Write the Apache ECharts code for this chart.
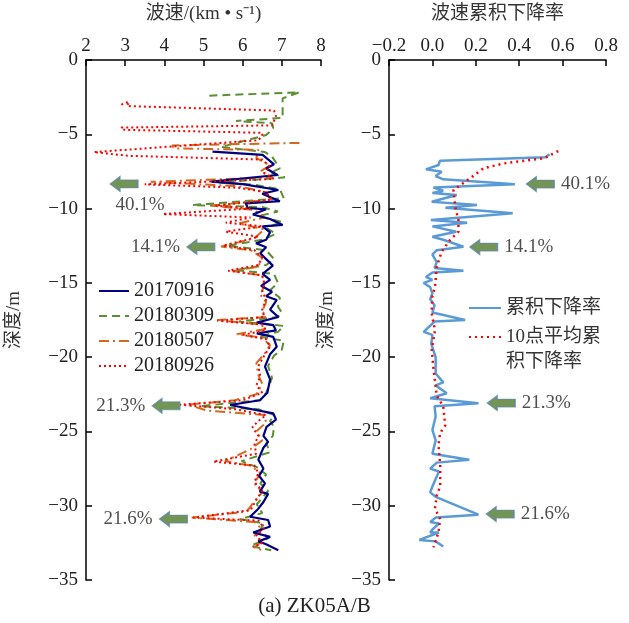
<!DOCTYPE html>
<html>
<head>
<meta charset="utf-8">
<script src="https://cdn.jsdelivr.net/npm/echarts@6/dist/echarts.min.js"></script>
<style>html,body{margin:0;padding:0;background:#fff}#c{width:629px;height:623px}</style>
</head>
<body>
<div id="c"></div>
<script>
// ---- data: [velocity km/s, depth m] ----
const s20170916 = [[5.23,-6.17],[6.51,-6.39],[6.8,-7.02],[6.6,-7.3],[6.89,-7.74],[5.2,-8.19],[6.0,-8.35],[6.91,-8.75],[6.5,-9.0],[6.95,-9.5],[6.08,-9.65],[6.13,-9.96],[6.6,-10.05],[6.26,-10.4],[6.7,-10.7],[7.02,-11.1],[6.51,-11.2],[6.7,-11.6],[6.6,-12.1],[6.34,-12.34],[6.6,-12.6],[6.45,-13.0],[6.56,-13.3],[6.77,-13.84],[6.51,-14.4],[6.7,-14.8],[6.47,-15.2],[6.75,-15.6],[6.6,-15.9],[6.87,-16.15],[6.7,-16.8],[6.91,-17.3],[6.36,-17.68],[6.78,-17.84],[6.85,-18.2],[6.36,-18.4],[6.78,-18.64],[6.87,-19.3],[6.7,-19.8],[6.57,-20.64],[6.7,-21.5],[6.63,-22.4],[6.44,-22.9],[5.68,-23.22],[6.78,-23.78],[6.85,-24.2],[6.61,-24.7],[6.53,-25.3],[6.65,-25.7],[6.53,-26.1],[6.4,-26.9],[6.53,-27.5],[6.42,-28.0],[6.57,-28.5],[6.44,-29.05],[6.65,-29.2],[6.53,-29.75],[6.4,-30.2],[6.19,-30.74],[6.65,-30.96],[6.7,-31.4],[6.27,-31.8],[6.7,-32.1],[6.4,-32.4],[6.6,-32.6],[6.91,-33.0]];
const s20180309 = [[5.15,-2.4],[7.45,-2.17],[7.02,-2.58],[7.02,-3.9],[5.83,-4.1],[6.75,-4.25],[6.78,-4.6],[6.6,-5.05],[5.45,-5.85],[6.57,-6.2],[6.75,-6.5],[6.95,-7.3],[6.7,-7.6],[7.08,-7.9],[5.4,-8.25],[6.3,-8.4],[6.95,-8.7],[7.05,-9.3],[4.72,-9.76],[6.5,-9.9],[6.9,-10.2],[6.4,-10.5],[7.0,-10.9],[6.6,-11.3],[6.85,-11.7],[6.5,-12.1],[5.6,-12.5],[6.6,-12.8],[6.8,-13.4],[6.6,-13.8],[5.8,-14.15],[6.8,-14.4],[6.9,-15.0],[6.7,-15.5],[6.95,-16.0],[6.9,-16.6],[7.0,-17.0],[6.9,-17.3],[5.9,-17.6],[7.05,-17.9],[6.9,-18.3],[6.4,-18.6],[7.05,-18.9],[7.0,-19.5],[6.8,-19.9],[6.65,-20.6],[6.75,-21.4],[6.6,-22.4],[6.45,-22.9],[4.9,-23.3],[6.4,-23.5],[6.8,-23.9],[6.7,-24.3],[6.8,-24.7],[6.77,-25.3],[6.6,-25.8],[6.7,-26.4],[5.97,-27.0],[6.36,-27.4],[6.6,-27.9],[6.45,-28.5],[6.65,-29.0],[6.36,-29.9],[6.5,-30.5],[5.93,-30.9],[6.55,-31.2],[6.45,-31.6],[6.65,-32.2],[6.2,-32.7],[6.73,-33.0]];
const s20180507 = [[7.45,-5.58],[4.2,-5.75],[4.25,-5.95],[6.4,-6.05],[6.35,-6.6],[6.7,-7.1],[6.45,-7.5],[6.75,-7.9],[3.65,-8.2],[5.9,-8.5],[6.6,-8.9],[6.7,-9.4],[5.2,-9.8],[6.3,-10.1],[6.55,-10.6],[5.9,-11.0],[6.55,-11.4],[6.3,-12.0],[5.45,-12.56],[6.2,-12.8],[6.5,-13.3],[6.4,-13.9],[5.75,-14.2],[6.5,-14.5],[6.55,-15.2],[6.45,-15.8],[6.6,-16.3],[6.5,-16.9],[6.6,-17.3],[5.35,-17.5],[6.45,-17.8],[6.6,-18.1],[5.85,-18.45],[6.5,-18.7],[6.7,-19.2],[6.55,-19.8],[6.35,-20.4],[6.4,-21.2],[6.5,-21.8],[6.35,-22.5],[5.8,-22.9],[4.6,-23.2],[5.1,-23.6],[6.55,-23.9],[6.6,-24.4],[6.35,-25.0],[6.5,-25.6],[6.2,-26.2],[5.55,-27.0],[6.2,-27.3],[6.45,-27.8],[6.3,-28.5],[6.5,-29.1],[6.3,-29.7],[6.1,-30.4],[4.7,-30.8],[6.3,-31.1],[6.5,-31.6],[6.3,-32.0],[6.5,-32.4],[6.3,-32.8],[6.5,-33.0]];
const s20180926 = [[2.9,-3.0],[3.1,-2.8],[3.05,-3.1],[6.8,-3.4],[6.85,-3.8],[6.75,-4.4],[2.9,-4.55],[2.95,-4.7],[6.5,-4.9],[6.5,-5.1],[6.4,-5.4],[2.2,-6.2],[3.1,-6.45],[6.5,-6.7],[6.7,-7.2],[6.55,-7.6],[6.8,-8.0],[3.5,-8.37],[5.9,-8.6],[6.6,-8.9],[6.75,-9.4],[5.3,-9.8],[6.2,-10.0],[3.96,-10.37],[6.2,-10.6],[5.57,-10.95],[6.5,-11.2],[5.57,-11.55],[6.4,-11.9],[5.5,-12.5],[6.3,-12.8],[6.5,-13.3],[6.4,-13.8],[5.63,-14.18],[6.5,-14.5],[6.55,-15.0],[6.5,-15.6],[6.6,-16.1],[6.5,-16.8],[6.55,-17.3],[5.35,-17.55],[6.5,-17.8],[6.6,-18.2],[6.0,-18.5],[6.6,-18.8],[6.7,-19.3],[6.55,-19.9],[6.4,-20.6],[6.45,-21.3],[6.35,-21.9],[6.5,-22.4],[6.0,-22.9],[4.4,-23.2],[5.8,-23.5],[6.6,-23.9],[6.4,-24.3],[6.25,-24.7],[6.4,-25.3],[6.3,-25.9],[6.35,-26.5],[5.25,-27.03],[6.3,-27.3],[6.4,-27.8],[6.3,-28.4],[6.5,-29.0],[6.35,-29.6],[6.2,-30.3],[4.74,-30.8],[6.4,-31.0],[6.55,-31.5],[6.35,-32.0],[6.5,-32.5],[6.27,-32.8]];
// ---- data: [cumulative decline rate, depth m] ----
const cumDecline = [[0.54,-6.35],[0.52,-6.55],[0.035,-6.78],[0.028,-7.07],[-0.03,-7.36],[0.043,-7.52],[0.015,-7.81],[0.05,-8.03],[0.38,-8.37],[0.005,-8.59],[0.05,-8.8],[0.0,-8.95],[0.112,-9.09],[-0.003,-9.54],[0.097,-9.65],[0.205,-9.76],[0.06,-9.95],[0.37,-10.32],[-0.007,-10.77],[0.16,-10.95],[0.0,-11.2],[0.11,-11.56],[0.0,-11.9],[0.05,-12.1],[0.143,-12.57],[0.02,-12.8],[0.0,-13.1],[0.02,-13.6],[0.01,-14.0],[0.143,-14.18],[0.0,-14.3],[-0.03,-14.6],[0.0,-14.8],[-0.04,-15.0],[-0.01,-15.3],[0.0,-15.7],[-0.01,-16.1],[0.01,-16.5],[0.0,-17.0],[0.151,-17.5],[0.01,-17.6],[-0.04,-18.3],[0.0,-18.5],[-0.005,-19.1],[0.015,-20.0],[0.015,-21.1],[0.05,-21.7],[0.015,-21.9],[0.066,-22.43],[-0.01,-22.77],[0.212,-23.1],[0.01,-23.3],[0.015,-24.0],[0.0,-24.9],[0.015,-25.6],[0.0,-26.5],[0.17,-26.9],[0.02,-27.1],[-0.01,-27.5],[0.03,-27.7],[0.0,-28.7],[-0.01,-29.1],[0.015,-29.4],[0.212,-30.6],[0.015,-30.8],[-0.01,-31.1],[0.03,-31.2],[0.0,-31.6],[-0.01,-31.8],[0.03,-31.8],[-0.06,-32.3],[0.015,-32.4],[0.05,-32.75]];
const avgDecline = [[0.58,-6.13],[0.514,-6.62],[0.33,-6.96],[0.235,-7.29],[0.174,-7.96],[0.097,-8.75],[0.105,-9.87],[0.12,-10.77],[0.12,-11.56],[0.082,-12.1],[0.043,-12.9],[0.02,-13.9],[0.012,-15.3],[0.0,-15.9],[-0.004,-17.0],[0.012,-18.2],[-0.003,-19.5],[0.005,-20.8],[0.02,-22.6],[0.05,-23.3],[0.059,-24.6],[0.036,-25.1],[0.028,-25.9],[0.036,-27.3],[0.036,-28.7],[0.02,-29.3],[0.012,-30.2],[0.036,-30.9],[0.028,-31.8],[0.005,-32.8]];
// ---- arrow annotations ----
const leftArrows = [[2.97,-8.34,'40.1%'],[4.93,-12.58,'14.1%'],[4.04,-23.28,'21.3%'],[4.23,-30.9,'21.6%']];
const rightArrows = [[0.497,-8.35,'40.1%'],[0.236,-12.59,'14.1%'],[0.317,-23.09,'21.3%'],[0.312,-30.56,'21.6%']];
const depthTicks = {min:-35, max:0, interval:5};

const FONT = "'Liberation Serif','Times New Roman','Noto Sans CJK SC',serif";
const minus = s => String(s).replace('-', '\u2212');
const arrowPath = 'path://M0,7.5 L10,0 L10,3.5 L28,3.5 L28,11.5 L10,11.5 L10,15 Z';

function yAxis(gi, gap) {
  return {
    type:'value', gridIndex:gi, min:depthTicks.min, max:depthTicks.max, interval:depthTicks.interval,
    name:'深度/m', nameLocation:'middle', nameGap:gap, nameRotate:90,
    nameTextStyle:{fontFamily:FONT, fontSize:19, color:'#333'},
    axisLine:{show:true, onZero:false, lineStyle:{color:'#000', width:1.5}},
    axisTick:{show:true, inside:true, length:6, lineStyle:{color:'#000', width:1.5}},
    axisLabel:{fontFamily:FONT, fontSize:19, color:'#222', margin:8, formatter:v=>minus(v)},
    splitLine:{show:false}
  };
}
function xAxis(gi, min, max, interval, name, fmt) {
  return {
    type:'value', gridIndex:gi, position:'top', min, max, interval,
    name, nameLocation:'middle', nameGap:36,
    nameTextStyle:{fontFamily:FONT, fontSize:19, color:'#333'},
    axisLine:{show:true, onZero:false, lineStyle:{color:'#000', width:1.5}},
    axisTick:{show:true, inside:true, length:6, lineStyle:{color:'#000', width:1.5}},
    axisLabel:{fontFamily:FONT, fontSize:19, color:'#222', margin:4, formatter:fmt},
    splitLine:{show:false}
  };
}
function arrows(list, xi, pos) {
  return {
    type:'scatter', xAxisIndex:xi, yAxisIndex:xi, symbol:arrowPath, symbolSize:[28,15], z:10,
    itemStyle:{color:'#4f7b2a', borderColor:'#5b86c0', borderWidth:1},
    data:list.map((a,i)=>({value:[a[0],a[1]], label:{
      show:true, formatter:a[2], fontFamily:FONT, fontSize:19, color:'#222',
      position:(pos==='left' && i===0)?'bottom':pos, distance:(pos==='left' && i===0)?4:6,
      offset:(pos==='left' && i===0)?[16,0]:[0,0]}})),
    silent:true
  };
}

const chart = echarts.init(document.getElementById('c'), null, {renderer:'canvas'});
chart.setOption({
  animation:false,
  backgroundColor:'#fff',
  title:{text:'(a) ZK05A/B', left:'center', top:591, textStyle:{fontFamily:FONT, fontSize:21, fontWeight:'normal', color:'#222'}},
  grid:[
    {left:86, top:60, width:235, height:520},
    {left:389, top:60, width:217, height:520}
  ],
  xAxis:[
    xAxis(0, 2, 8, 1, '波速/(km • s⁻¹)', v=>String(v)),
    xAxis(1, -0.2, 0.8, 0.2, '波速累积下降率', v=>minus(v.toFixed(1)))
  ],
  yAxis:[yAxis(0, 62), yAxis(1, 52)],
  legend:[
    {data:['20170916','20180309','20180507','20180926'], orient:'vertical', left:93, top:276,
     itemWidth:30, itemHeight:14, itemGap:5, itemStyle:{opacity:0},
     textStyle:{fontFamily:FONT, fontSize:20, color:'#222', lineHeight:20}},
    {data:['累积下降率'], orient:'vertical', left:463, top:290.5, itemWidth:32, itemHeight:14,
     itemStyle:{opacity:0},
     textStyle:{fontFamily:FONT, fontSize:19, color:'#333', lineHeight:25}},
    {data:['10点平均累积下降率'], orient:'vertical', left:463, top:294.5, itemWidth:32, itemHeight:14,
     itemStyle:{opacity:0},
     formatter:()=>'\n10点平均累\n积下降率',
     textStyle:{fontFamily:FONT, fontSize:19, color:'#333', lineHeight:25}}
  ],
  series:[
    {name:'20170916', type:'line', xAxisIndex:0, yAxisIndex:0, data:s20170916, symbol:'none', z:5,
     lineStyle:{color:'#000080', width:2.2}, itemStyle:{color:'#000080'}},
    {name:'20180309', type:'line', xAxisIndex:0, yAxisIndex:0, data:s20180309, symbol:'none', z:3,
     lineStyle:{color:'#5a8f34', width:2, type:[8,5]}, itemStyle:{color:'#5a8f34'}},
    {name:'20180507', type:'line', xAxisIndex:0, yAxisIndex:0, data:s20180507, symbol:'none', z:4,
     lineStyle:{color:'#d2691e', width:2, type:[10,4,2,4]}, itemStyle:{color:'#d2691e'}},
    {name:'20180926', type:'line', xAxisIndex:0, yAxisIndex:0, data:s20180926, symbol:'none', z:6,
     lineStyle:{color:'#ff0000', width:2, type:[2,3]}, itemStyle:{color:'#ff0000'}},
    {name:'累积下降率', type:'line', xAxisIndex:1, yAxisIndex:1, data:cumDecline, symbol:'none', z:4,
     lineStyle:{color:'#5b9bd5', width:2.5}, itemStyle:{color:'#5b9bd5'}},
    {name:'10点平均累积下降率', type:'line', xAxisIndex:1, yAxisIndex:1, data:avgDecline, symbol:'none', z:5,
     lineStyle:{color:'#ff0000', width:2.5, type:[2,4]}, itemStyle:{color:'#ff0000'}},
    arrows(leftArrows, 0, 'left'),
    arrows(rightArrows, 1, 'right')
  ]
});
</script>
</body>
</html>
